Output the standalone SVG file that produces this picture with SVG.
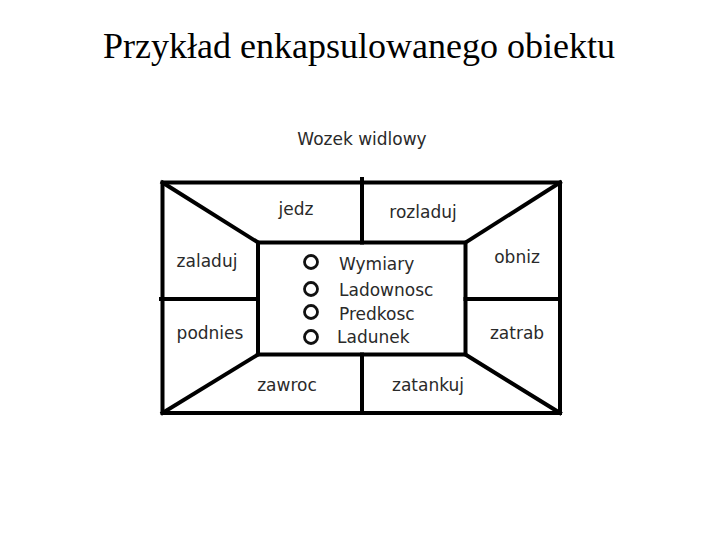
<svg xmlns="http://www.w3.org/2000/svg" width="720" height="540" viewBox="0 0 720 540">
<style>
.t{font-family:"DejaVu Sans",Verdana,sans-serif;font-size:17px;fill:#2a2a2a}
.m{text-anchor:middle}
.ln{stroke:#000;stroke-width:4;fill:none;stroke-linecap:square}
.c{fill:#fff;stroke:#111;stroke-width:2.8}
</style>
<rect width="720" height="540" fill="#fff"/>
<text x="359" y="58" font-family="'Liberation Serif','Times New Roman',serif" font-size="36" text-anchor="middle" fill="#000">Przykład enkapsulowanego obiektu</text>
<text class="t m" x="362" y="145">Wozek widlowy</text>
<g id="connectors">
<rect class="ln" x="162.5" y="182.5" width="397.5" height="230.5"/>
<rect class="ln" x="258" y="242.5" width="207.5" height="112"/>
<line class="ln" x1="362" y1="179" x2="362" y2="242.5"/>
<line class="ln" x1="362" y1="354.5" x2="362" y2="413"/>
<line class="ln" x1="161" y1="299" x2="258" y2="299"/>
<line class="ln" x1="465.5" y1="299" x2="560" y2="299"/>
<line class="ln" x1="162.5" y1="182.5" x2="258" y2="242.5"/>
<line class="ln" x1="560" y1="182.5" x2="465.5" y2="242.5"/>
<line class="ln" x1="162.5" y1="413" x2="258" y2="354.5"/>
<line class="ln" x1="560" y1="413" x2="465.5" y2="354.5"/>
</g>
<g id="jedz"><text class="t m" x="296" y="215">jedz</text></g>
<g id="rozladuj"><text class="t m" x="423" y="218">rozladuj</text></g>
<g id="zaladuj"><text class="t m" x="207" y="267">zaladuj</text></g>
<g id="obniz"><text class="t m" x="517" y="263">obniz</text></g>
<g id="podnies"><text class="t m" x="210" y="339">podnies</text></g>
<g id="zatrab"><text class="t m" x="517" y="339">zatrab</text></g>
<g id="zawroc"><text class="t m" x="287" y="391">zawroc</text></g>
<g id="zatankuj"><text class="t m" x="428" y="391">zatankuj</text></g>
<g id="obiekt">
<circle class="c" cx="311" cy="262" r="6.5"/>
<circle class="c" cx="311" cy="289" r="6.5"/>
<circle class="c" cx="311" cy="312" r="6.5"/>
<circle class="c" cx="311" cy="337" r="6.5"/>
<text class="t" x="339" y="270">Wymiary</text>
<text class="t" x="339" y="296">Ladownosc</text>
<text class="t" x="339" y="320">Predkosc</text>
<text class="t" x="337" y="343">Ladunek</text>
</g>
</svg>
